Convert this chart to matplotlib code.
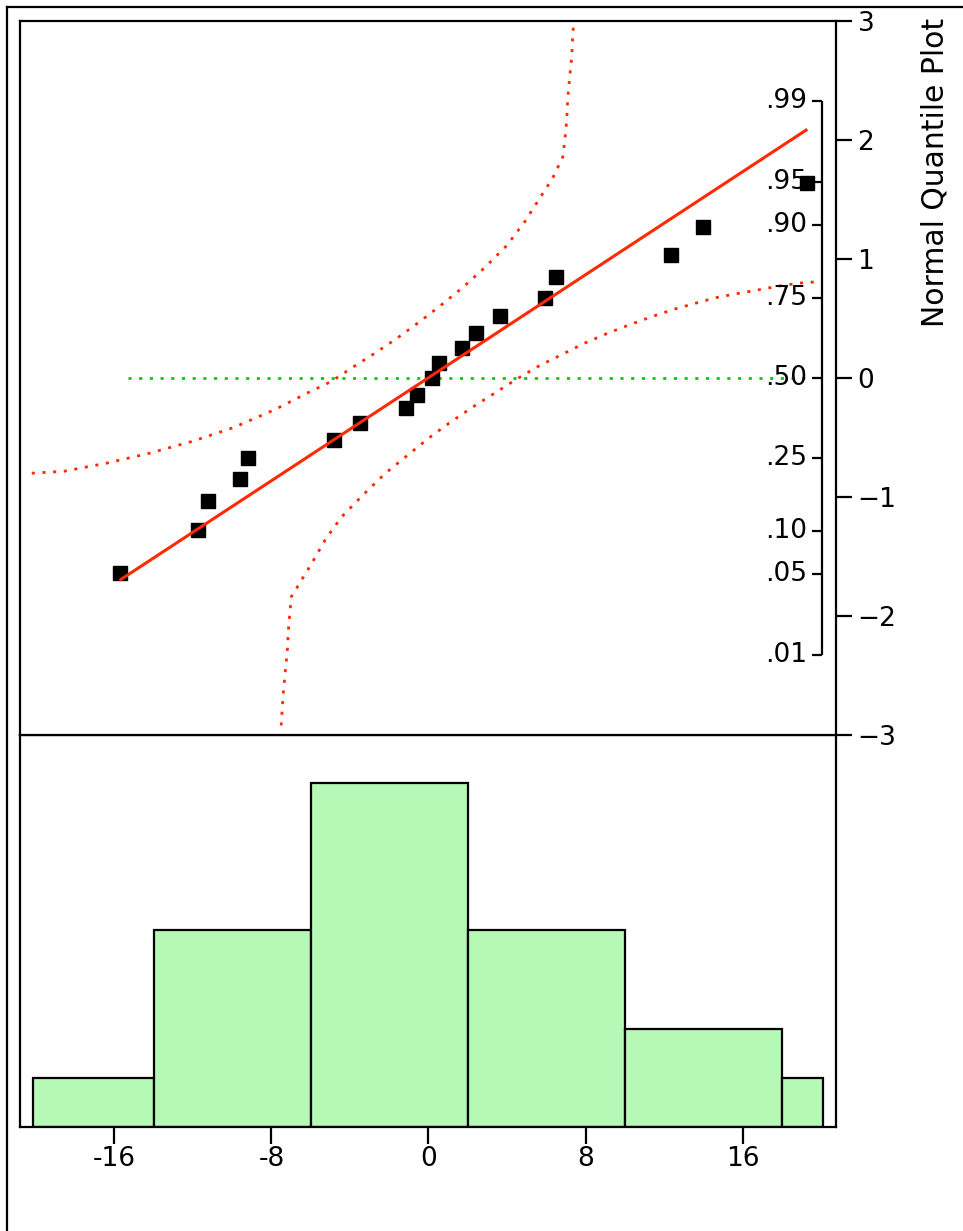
import matplotlib
matplotlib.use("Agg")
import matplotlib.pyplot as plt
from matplotlib.lines import Line2D

W, H = 963, 1231

# --- values -----------------------------------------------------------
values = [-15.73, -11.73, -11.22, -9.59, -9.18, -4.80, -3.47, -1.12, -0.61,
          0.20, 0.51, 1.73, 2.40, 3.62, 5.92, 6.48, 12.35, 13.98, 19.29]
quantiles = [-1.64, -1.28, -1.03, -0.85, -0.67, -0.52, -0.38, -0.25, -0.14,
             0.0, 0.13, 0.25, 0.38, 0.52, 0.67, 0.85, 1.03, 1.27, 1.64]

fit_x = [-15.73, 19.29]
fit_z = [-1.70, 2.09]

ref_x = [-15.29, 19.25]
ref_z = [0.0, 0.0]

upper_x = [-20.20, -18.57, -16.43, -14.23, -12.04, -9.90, -7.81, -6.12, -4.95,
           -3.88, -2.76, -1.63, -0.51, 0.61, 1.73, 2.86, 3.98, 4.90, 5.61,
           6.33, 6.84, 6.94, 7.04, 7.09, 7.19, 7.30, 7.35, 7.40]
upper_z = [-0.80, -0.784, -0.717, -0.633, -0.533, -0.415, -0.264, -0.122, -0.029,
           0.088, 0.205, 0.331, 0.466, 0.608, 0.759, 0.927, 1.112, 1.313, 1.497,
           1.682, 1.858, 1.99, 2.17, 2.35, 2.53, 2.71, 2.89, 3.0]

lower_x = [-7.50, -7.40, -7.30, -7.19, -7.14, -7.09, -7.04, -6.99, -6.58,
           -5.92, -5.26, -4.44, -3.32, -2.19, -1.07, 0.05, 1.17, 2.30, 3.42,
           4.54, 5.66, 6.79, 7.91, 9.08, 10.26, 11.38, 12.45, 13.52, 14.64,
           15.71, 16.84, 17.96, 19.08, 20.05]
lower_z = [-2.92, -2.66, -2.48, -2.30, -2.13, -2.03, -1.94, -1.84, -1.73,
           -1.55, -1.36, -1.17, -0.98, -0.80, -0.65, -0.50, -0.365, -0.239, -0.122,
           -0.004, 0.105, 0.197, 0.290, 0.373, 0.449, 0.516, 0.575, 0.625, 0.675,
           0.709, 0.742, 0.776, 0.801, 0.810]

prob_labels = [".01", ".05", ".10", ".25", ".50", ".75", ".90", ".95", ".99"]
prob_z = [-2.326, -1.645, -1.282, -0.674, 0.0, 0.674, 1.282, 1.645, 2.326]

quant_ticks = [-3, -2, -1, 0, 1, 2, 3]
quant_labels = ["\u22123", "\u22122", "\u22121", "0", "1", "2", "3"]

bin_edges = [-20.13, -14, -6, 2, 10, 18, 20.08]
counts = [1, 4, 7, 4, 2, 1]

x_ticks = [-16, -8, 0, 8, 16]
x_labels = ["-16", "-8", "0", "8", "16"]

RED = "#ff2a00"
GREEN = "#00cc00"
BAR = "#b6f8b6"
FS = 19
LW = 1.6


def fx(px):
    return px / W


def fy(py):
    return 1 - py / H


fig = plt.figure(figsize=(W / 100, H / 100), dpi=100)

left, right = 20, 836
ax2 = fig.add_axes([fx(left), fy(1127), fx(right - left), (1127 - 735) / H])
ax = fig.add_axes([fx(left), fy(735), fx(right - left), (735 - 21) / H], sharex=ax2)
ax.set_zorder(3)
ax2.set_zorder(1)

xlim = (-20.8, 20.75)

# --- normal quantile plot --------------------------------------------
ax.plot(values, quantiles, "s", color="black", ms=10, zorder=3)
ax.plot(fit_x, fit_z, color=RED, lw=2.2, zorder=4, solid_capstyle="butt")
ax.plot(ref_x, ref_z, color=GREEN, lw=2.0, ls=(0, (1.1, 2.75)), zorder=2)
ax.plot(upper_x, upper_z, color=RED, lw=2.0, ls=(0, (1.1, 2.75)), zorder=2)
ax.plot(lower_x, lower_z, color=RED, lw=2.0, ls=(0, (1.1, 2.75)), zorder=2)

ax.set_xlim(*xlim)
ax.set_ylim(-3, 3)
ax.yaxis.tick_right()
ax.set_yticks(quant_ticks)
ax.set_yticklabels(quant_labels)
ax.tick_params(axis="y", direction="out", length=11.5, width=LW, pad=4, labelsize=FS)
ax.tick_params(axis="x", bottom=False, labelbottom=False)
for s in ax.spines.values():
    s.set_linewidth(LW)

# probability scale drawn inside the plot
px_axis = (822 - left) / (right - left)
tick_len = 10 / (right - left)
ytr = ax.get_yaxis_transform()
ax.plot([px_axis, px_axis], [prob_z[0], prob_z[-1]], color="black", lw=LW,
        transform=ytr, clip_on=False, solid_capstyle="butt")
for z, lab in zip(prob_z, prob_labels):
    ax.plot([px_axis - tick_len, px_axis], [z, z], color="black", lw=LW,
            transform=ytr, clip_on=False, solid_capstyle="butt")
    ax.text(px_axis - tick_len - 5 / (right - left), z, lab, transform=ytr,
            ha="right", va="center", fontsize=FS)

# --- histogram ---------------------------------------------------------
widths = [b - a for a, b in zip(bin_edges[:-1], bin_edges[1:])]
ax2.bar(bin_edges[:-1], counts, width=widths, align="edge", color=BAR,
        edgecolor="black", linewidth=LW)
ax2.set_ylim(0, 7.97)
ax2.set_yticks([])
ax2.set_xticks(x_ticks)
ax2.set_xticklabels(x_labels)
ax2.tick_params(axis="x", direction="out", length=12, width=LW, pad=2, labelsize=FS)
for s in ax2.spines.values():
    s.set_linewidth(LW)

# --- outer frame and title ----------------------------------------------
fig.add_artist(Line2D([fx(7), 1], [fy(7), fy(7)], color="black", lw=LW))
fig.add_artist(Line2D([fx(7), fx(7)], [0, fy(7)], color="black", lw=LW))

fig.text(fx(935), fy(18), "Normal Quantile Plot", rotation=90, ha="center",
         va="top", fontsize=21.5)

fig.savefig("out.png", dpi=100)
